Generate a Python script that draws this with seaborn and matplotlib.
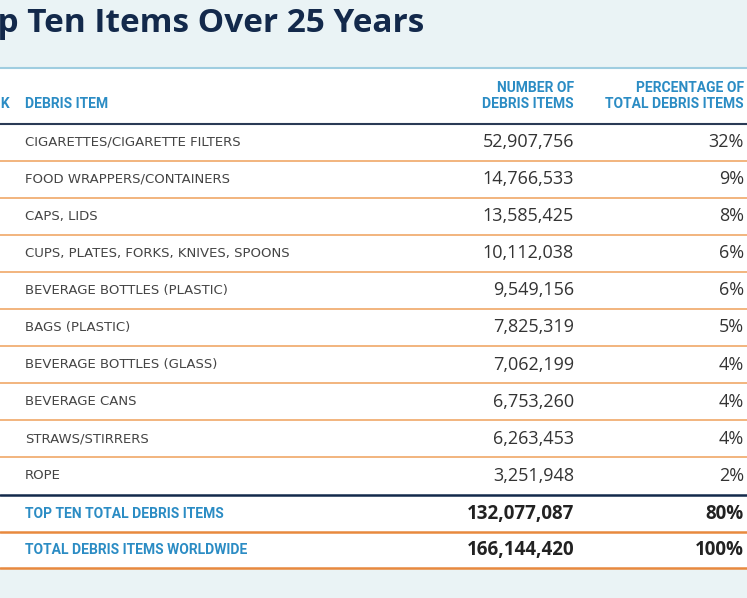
import matplotlib
matplotlib.use("Agg")
import matplotlib.pyplot as plt
import seaborn as sns

items = ["CIGARETTES/CIGARETTE FILTERS", "FOOD WRAPPERS/CONTAINERS", "CAPS, LIDS",
         "CUPS, PLATES, FORKS, KNIVES, SPOONS", "BEVERAGE BOTTLES (PLASTIC)", "BAGS (PLASTIC)",
         "BEVERAGE BOTTLES (GLASS)", "BEVERAGE CANS", "STRAWS/STIRRERS", "ROPE"]
counts = ["52,907,756", "14,766,533", "13,585,425", "10,112,038", "9,549,156",
          "7,825,319", "7,062,199", "6,753,260", "6,263,453", "3,251,948"]
pcts = ["32%", "9%", "8%", "6%", "6%", "5%", "4%", "4%", "4%", "2%"]
totals = ["TOP TEN TOTAL DEBRIS ITEMS", "TOTAL DEBRIS ITEMS WORLDWIDE"]
total_counts = ["132,077,087", "166,144,420"]
total_pcts = ["80%", "100%"]
title = "Top Ten Items Over 25 Years"

sns.set_style("white")
plt.rcParams['font.family'] = ['Lato', 'DejaVu Sans']

navy = "#13294b"
blue = "#2b8cc4"
orange = "#f0a868"
fig = plt.figure(figsize=(7.47, 5.98), dpi=100)
ax = fig.add_axes([0, 0, 1, 1])
ax.set_xlim(0, 747)
ax.set_ylim(598, 0)
ax.axis("off")

bg = "#eaf3f5"
ax.axhspan(0, 67, color=bg, zorder=0)
ax.axhspan(568, 598, color=bg, zorder=0)
ax.axhline(68, color="#9fcde0", lw=1.5)

# the reference is a crop, so the title and rank header run off the left edge
ax.text(-40, 24, title, fontsize=24, fontweight="bold", color=navy, va="center",
        family="Open Sans", clip_on=True)

hdr = dict(color=blue, fontsize=10, fontweight="bold", family="Roboto")
ax.text(10, 104, "RANK", ha="right", va="center", clip_on=True, **hdr)
ax.text(25, 104, "DEBRIS ITEM", va="center", **hdr)
ax.text(574, 96, "NUMBER OF\nDEBRIS ITEMS", ha="right", va="center", linespacing=1.1, **hdr)
ax.text(744, 96, "PERCENTAGE OF\nTOTAL DEBRIS ITEMS", ha="right", va="center", linespacing=1.1, **hdr)
ax.axhline(124, color="#2a3a55", lw=1.5)

row_h = 37.1
for i, (it, c, p) in enumerate(zip(items, counts, pcts)):
    y = 142 + i * row_h
    ax.text(25, y, it, va="center", fontsize=9.5, color="#444444", family="DejaVu Sans")
    ax.text(574, y, c, ha="right", va="center", fontsize=13, color="#333333", family="Open Sans")
    ax.text(744, y, p, ha="right", va="center", fontsize=13, color="#333333", family="Open Sans")
    if i < len(items) - 1:
        ax.axhline(y + row_h / 2, color=orange, lw=1.2)
ax.axhline(495, color=navy, lw=1.8)

for j, (t, c, p) in enumerate(zip(totals, total_counts, total_pcts)):
    y = 514 + j * 36
    ax.text(25, y, t, va="center", color=blue, fontsize=10, fontweight="bold", family="Roboto")
    ax.text(574, y, c, ha="right", va="center", fontsize=13.5, fontweight="bold", color="#222222", family="Open Sans")
    ax.text(744, y, p, ha="right", va="center", fontsize=13.5, fontweight="bold", color="#222222", family="Open Sans")
    ax.axhline(y + 18, color="#e8893e", lw=1.8)

fig.savefig("out.png", dpi=100)
